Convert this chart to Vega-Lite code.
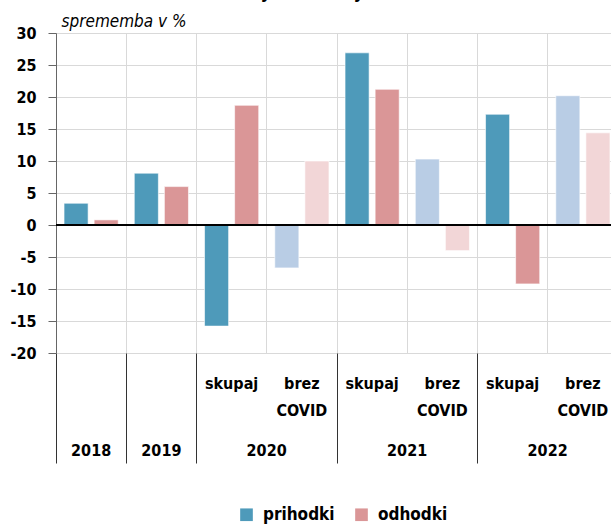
{
  "$schema": "https://vega.github.io/schema/vega-lite/v6.json",
  "autosize": {"type": "none"},
  "width": 562,
  "height": 320,
  "padding": {"left": 56, "top": 33, "right": 0, "bottom": 173},
  "title": {"text": "(januar-maj)", "fontSize": 18, "fontWeight": "bold", "font": "DejaVu Sans Condensed", "anchor": "middle", "frame": "group", "dx": -25, "dy": 10, "offset": 2, "baseline": "bottom", "color": "#000"},
  "data": {"values": [
    {"stolpec": "2018", "serija": "prihodki", "kat": "prihodki", "v": 3.4},
    {"stolpec": "2018", "serija": "odhodki", "kat": "odhodki", "v": 0.8},
    {"stolpec": "2019", "serija": "prihodki", "kat": "prihodki", "v": 8.1},
    {"stolpec": "2019", "serija": "odhodki", "kat": "odhodki", "v": 6.0},
    {"stolpec": "2020 skupaj", "serija": "prihodki", "kat": "prihodki", "v": -15.8},
    {"stolpec": "2020 skupaj", "serija": "odhodki", "kat": "odhodki", "v": 18.7},
    {"stolpec": "2020 brez COVID", "serija": "prihodki", "kat": "prihodki brez", "v": -6.7},
    {"stolpec": "2020 brez COVID", "serija": "odhodki", "kat": "odhodki brez", "v": 10.0},
    {"stolpec": "2021 skupaj", "serija": "prihodki", "kat": "prihodki", "v": 26.9},
    {"stolpec": "2021 skupaj", "serija": "odhodki", "kat": "odhodki", "v": 21.2},
    {"stolpec": "2021 brez COVID", "serija": "prihodki", "kat": "prihodki brez", "v": 10.3},
    {"stolpec": "2021 brez COVID", "serija": "odhodki", "kat": "odhodki brez", "v": -4.0},
    {"stolpec": "2022 skupaj", "serija": "prihodki", "kat": "prihodki", "v": 17.3},
    {"stolpec": "2022 skupaj", "serija": "odhodki", "kat": "odhodki", "v": -9.2},
    {"stolpec": "2022 brez COVID", "serija": "prihodki", "kat": "prihodki brez", "v": 20.2},
    {"stolpec": "2022 brez COVID", "serija": "odhodki", "kat": "odhodki brez", "v": 14.4}
  ]},
  "config": {
    "view": {"stroke": null},
    "font": "DejaVu Sans Condensed",
    "axis": {"labelColor": "#000", "labelFont": "DejaVu Sans Condensed", "labelFontWeight": "bold", "labelFontSize": 16}
  },
  "layer": [
    {
      "mark": {"type": "bar", "stroke": "#ffffff", "strokeWidth": 0.6},
      "encoding": {
        "x": {
          "field": "stolpec", "type": "nominal",
          "sort": ["2018", "2019", "2020 skupaj", "2020 brez COVID", "2021 skupaj", "2021 brez COVID", "2022 skupaj", "2022 brez COVID"],
          "scale": {"paddingInner": 0, "paddingOuter": 0},
          "axis": {
            "title": null, "orient": "bottom", "grid": false, "ticks": false, "domain": false,
            "labelAngle": 0, "labelPadding": 22, "labelLineHeight": 27,
            "labelExpr": "indexof(datum.value, 'skupaj') >= 0 ? 'skupaj' : (indexof(datum.value, 'brez') >= 0 ? ['brez', 'COVID'] : '')"
          }
        },
        "xOffset": {"field": "serija", "type": "nominal", "sort": ["prihodki", "odhodki"], "scale": {"paddingInner": 0.2, "paddingOuter": 0.267}},
        "y": {
          "field": "v", "type": "quantitative",
          "scale": {"domain": [-20, 30], "nice": false},
          "axis": {
            "values": [-20, -15, -10, -5, 0, 5, 10, 15, 20, 25, 30],
            "labelExpr": "replace(datum.label, '−', '-')",
            "grid": true, "gridColor": "#d9d9d9", "domainColor": "#666", "tickColor": "#666", "tickSize": 8, "labelPadding": 12,
            "title": "sprememba v %", "titleAngle": 0, "titleAlign": "left", "titleBaseline": "alphabetic",
            "titleX": 5, "titleY": -7, "titleFontStyle": "italic", "titleFontWeight": "normal", "titleFontSize": 17, "titleColor": "#000"
          }
        },
        "color": {
          "field": "kat", "type": "nominal",
          "scale": {"domain": ["prihodki", "odhodki", "prihodki brez", "odhodki brez"], "range": ["#4E9ABA", "#DA9697", "#B9CDE5", "#F2D6D7"]},
          "legend": {
            "values": ["prihodki", "odhodki"], "title": null, "orient": "none", "direction": "horizontal",
            "legendX": 182, "legendY": 473, "symbolType": "square", "symbolSize": 160, "symbolStrokeWidth": 0,
            "labelFontSize": 17, "labelFontWeight": "bold", "labelColor": "#000", "columnPadding": 18, "labelOffset": 8
          }
        }
      }
    },
    {
      "mark": {"type": "point", "opacity": 0},
      "encoding": {
        "x": {
          "field": "stolpec", "type": "nominal",
          "sort": ["2018", "2019", "2020 skupaj", "2020 brez COVID", "2021 skupaj", "2021 brez COVID", "2022 skupaj", "2022 brez COVID"],
          "axis": {
            "title": null, "orient": "bottom", "domain": false, "bandPosition": 0,
            "grid": true, "gridColor": "#d9d9d9",
            "ticks": true, "tickColor": "#333", "tickWidth": 1,
            "tickSize": {"condition": {"test": "indexof(datum.value, 'brez') >= 0", "value": 0}, "value": 110},
            "labelAngle": 0, "labelAlign": "center", "labelPadding": -21,
            "labelExpr": "indexof(datum.value, 'brez') >= 0 ? '' : substring(datum.value, 0, 4)",
            "labelOffset": {"condition": {"test": "datum.value == '2018' || datum.value == '2019'", "value": 0}, "value": 35}
          }
        }
      }
    },
    {
      "mark": {"type": "rule", "color": "#000", "strokeWidth": 1.5},
      "encoding": {"y": {"datum": 0, "axis": {
            "values": [-20, -15, -10, -5, 0, 5, 10, 15, 20, 25, 30],
            "labelExpr": "replace(datum.label, '−', '-')",
            "grid": true, "gridColor": "#d9d9d9", "domainColor": "#666", "tickColor": "#666", "tickSize": 8, "labelPadding": 12,
            "title": "sprememba v %", "titleAngle": 0, "titleAlign": "left", "titleBaseline": "alphabetic",
            "titleX": 5, "titleY": -7, "titleFontStyle": "italic", "titleFontWeight": "normal", "titleFontSize": 17, "titleColor": "#000"
          }}}
    }
  ],
  "resolve": {"axis": {"x": "independent"}}
}
